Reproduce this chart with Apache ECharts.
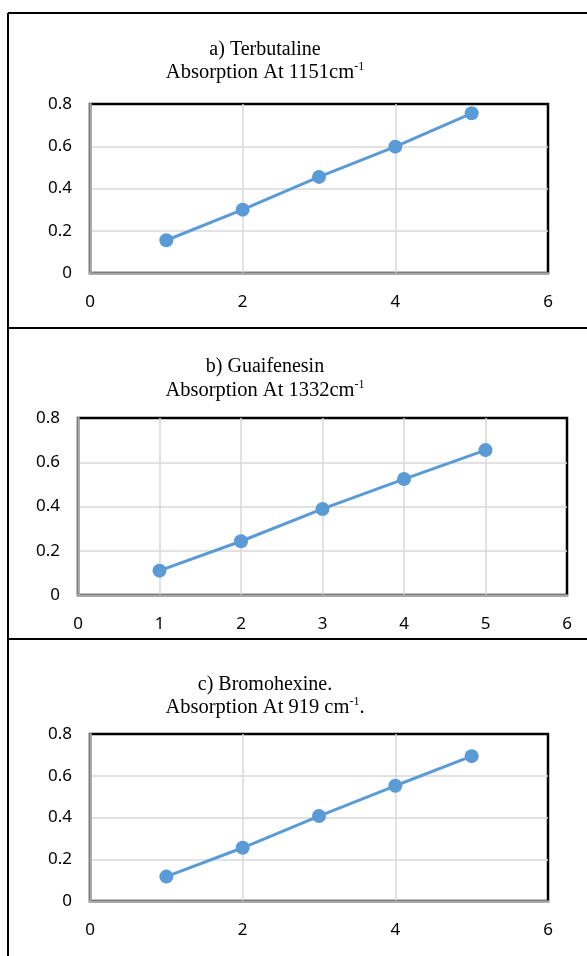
<!DOCTYPE html>
<html>
<head>
<meta charset="utf-8">
<script src="https://cdn.jsdelivr.net/npm/echarts@6/dist/echarts.min.js"></script>
<style>
  html, body { margin: 0; padding: 0; background: #fff; }
  #chart { width: 587px; height: 956px; }
</style>
</head>
<body>
<div id="chart"></div>
<script>
// data
const xValues = [1, 2, 3, 4, 5];
const terbutaline = [0.155, 0.30, 0.455, 0.598, 0.756];
const guaifenesin = [0.11, 0.243, 0.389, 0.524, 0.655];
const bromohexine = [0.117, 0.255, 0.407, 0.552, 0.694];

const titleLine1 = ["a) Terbutaline", "b) Guaifenesin", "c) Bromohexine."];
const titleLine2 = [
  "{t|Absorption At 1151cm}{s|-1}",
  "{t|Absorption At 1332cm}{s|-1}",
  "{t|Absorption At 919 cm}{s|-1}{t|.}",
];
const xIntervals = [2, 1, 2];

const seriesData = [terbutaline, guaifenesin, bromohexine];

// layout per panel
const grids = [
  { left: 90, top: 104, width: 458, height: 169 },
  { left: 78, top: 418, width: 489, height: 177 },
  { left: 90, top: 734, width: 458, height: 167 },
];
const titleTops = [[33, 56], [350, 374], [668, 691]];

const LABEL_FONT = "'Noto Sans', sans-serif";
const TITLE_FONT = "'Liberation Serif', 'Times New Roman', serif";

const chart = echarts.init(document.getElementById("chart"));

const titles = [];
titleLine1.forEach((t, i) => {
  titles.push({
    text: t,
    left: 260,
    top: titleTops[i][0],
    textAlign: "center",
    textStyle: { fontFamily: TITLE_FONT, fontSize: 20, fontWeight: "normal", color: "#000", lineHeight: 24 },
  });
  titles.push({
    text: titleLine2[i],
    left: 260,
    top: titleTops[i][1],
    textAlign: "center",
    textStyle: {
      fontWeight: "normal",
      rich: {
        t: { fontFamily: TITLE_FONT, fontSize: 20.5, fontWeight: "normal", color: "#000", lineHeight: 24 },
        s: { fontFamily: TITLE_FONT, fontSize: 12, fontWeight: "normal", color: "#000", lineHeight: 24, verticalAlign: "top", padding: [0, 0, 9, 0] },
      },
    },
  });
});

const option = {
  backgroundColor: "#fff",
  animation: false,
  title: titles,
  grid: grids.map((g) => ({
    ...g,
    show: true,
    borderColor: "#000",
    borderWidth: 2.5,
    backgroundColor: "#fff",
  })),
  xAxis: grids.map((g, i) => ({
    type: "value",
    gridIndex: i,
    min: 0,
    max: 6,
    interval: xIntervals[i],
    axisTick: { show: false },
    axisLine: { show: true, onZero: false, lineStyle: { color: "#a6a6a6", width: 2.5 } },
    axisLabel: { color: "#000", fontFamily: LABEL_FONT, fontSize: 17, margin: 21 },
    splitLine: { show: true, showMinLine: false, showMaxLine: false, lineStyle: { color: "#d9d9d9", width: 1.5 } },
  })),
  yAxis: grids.map((g, i) => ({
    type: "value",
    gridIndex: i,
    min: 0,
    max: 0.8,
    interval: 0.2,
    axisTick: { show: false },
    axisLine: { show: true, lineStyle: { color: "#a6a6a6", width: 2.5 } },
    axisLabel: { color: "#000", fontFamily: LABEL_FONT, fontSize: 17, margin: 18 },
    splitLine: { show: true, showMinLine: false, showMaxLine: false, lineStyle: { color: "#d9d9d9", width: 1.5 } },
  })),
  series: seriesData.map((vals, i) => ({
    type: "line",
    xAxisIndex: i,
    yAxisIndex: i,
    data: xValues.map((x, k) => [x, vals[k]]),
    symbol: "circle",
    symbolSize: 14,
    lineStyle: { color: "#5b9bd5", width: 3 },
    itemStyle: { color: "#5b9bd5" },
  })),
  graphic: [
    { type: "line", shape: { x1: 8, y1: 13, x2: 587, y2: 13 }, style: { stroke: "#000", lineWidth: 2 } },
    { type: "line", shape: { x1: 8, y1: 13, x2: 8, y2: 956 }, style: { stroke: "#000", lineWidth: 2 } },
    { type: "line", shape: { x1: 8, y1: 328, x2: 587, y2: 328 }, style: { stroke: "#000", lineWidth: 2 } },
    { type: "line", shape: { x1: 8, y1: 639, x2: 587, y2: 639 }, style: { stroke: "#000", lineWidth: 2 } },
  ],
};

chart.setOption(option);
</script>
</body>
</html>
